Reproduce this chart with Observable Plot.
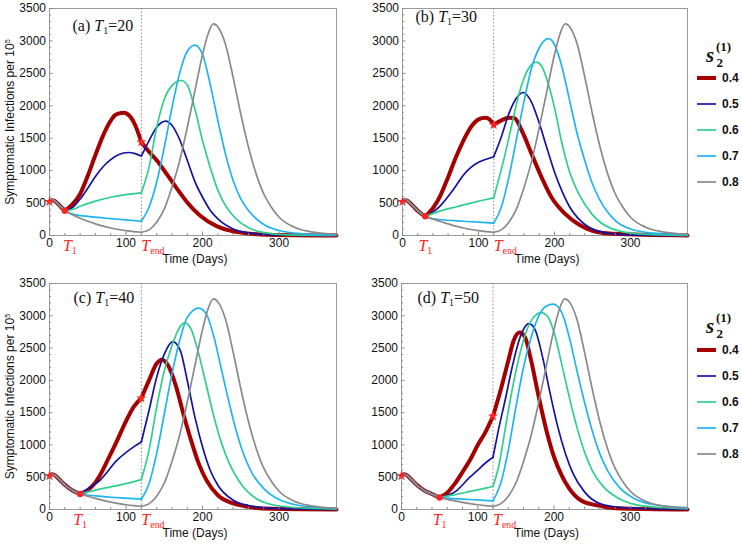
<!DOCTYPE html>
<html><head><meta charset="utf-8">
<script src="https://cdn.jsdelivr.net/npm/d3@7"></script>
<script src="https://cdn.jsdelivr.net/npm/@observablehq/plot@0.6"></script>
<style>
body{margin:0;background:#fff;}
#root{position:relative;width:742px;height:547px;overflow:hidden;}
.pnl{position:absolute;}
</style></head><body><div id="root"></div>
<script>
// ---------- series meta ----------
const seriesLevels = ["0.4","0.5","0.6","0.7","0.8"];
const seriesColors = ["#a50000","#1414a0","#2ecf8c","#1db4f2","#8a8a8a"];
const seriesWidths = [4, 1.7, 1.7, 1.7, 1.7];
const T_END = 120;
const panelT1 = [20, 30, 40, 50];
const panelLabels = ["(a) ~T_{1}=20", "(b) ~T_{1}=30", "(c) ~T_{1}=40", "(d) ~T_{1}=50"];
const yMajor = [0, 500, 1000, 1500, 2000, 2500, 3000, 3500];
const yMinor = [100,200,300,400,600,700,800,900,1100,1200,1300,1400,1600,1700,1800,1900,2100,2200,2300,2400,2600,2700,2800,2900,3100,3200,3300,3400];
const xMajor = [0, 100, 200, 300];
const xMinor = [20,40,60,80,120,140,160,180,220,240,260,280,320,340,360];
const yTitle = "Symptomatic Infections per 10^{5}";
const xTitle = "Time (Days)";

// common early epidemic (before T1)
const prefix = [[0,520],[3,545],[6,538],[10,500],[15,440],[20,382],[25,335],[30,295],[35,265],[40,240],[45,210],[50,185]];
// s=0.8 after T_end (same in all panels)
const grayAfter = [[120,50],[130,87],[140,205],[150,410],[160,745],[170,1150],[180,1665],[190,2230],[200,2790],[207,3100],[214,3262],[221,3200],[230,2945],[240,2435],[250,1870],[260,1360],[270,950],[280,640],[290,435],[300,282],[320,128],[340,61],[375,20]];

// ---------- panel (a) T1=20 ----------
const a04 = [[20,382],[30,480],[40,640],[50,920],[60,1240],[70,1540],[80,1770],[85,1850],[90,1880],[97,1893],[105,1840],[112,1700],[120,1440],[127,1335],[140,1160],[153,950],[167,715],[180,510],[197,305],[219,140],[241,60],[285,12],[375,0]];
const a05 = [[20,382],[30,430],[40,560],[50,730],[60,910],[70,1060],[80,1170],[90,1245],[103,1280],[112,1262],[120,1225],[130,1460],[140,1670],[152,1765],[160,1700],[170,1480],[180,1160],[190,830],[200,590],[210,390],[220,255],[240,100],[260,40],[290,10],[375,0]];
const a06 = [[20,382],[30,400],[40,450],[60,530],[80,590],[100,630],[120,656],[130,1050],[140,1665],[150,2100],[160,2310],[172,2390],[180,2320],[190,1950],[200,1460],[210,1050],[220,700],[230,460],[240,305],[260,120],[280,46],[310,10],[375,2]];
const a07 = [[20,382],[30,330],[50,295],[80,260],[100,240],[120,220],[130,435],[140,820],[150,1360],[160,1970],[170,2500],[180,2840],[190,2935],[200,2790],[210,2330],[220,1770],[230,1255],[240,845],[250,565],[260,385],[280,170],[300,77],[330,26],[375,5]];
const a08 = [[20,382],[30,320],[40,265],[50,220],[60,180],[70,145],[80,115],[90,92],[100,74],[110,60],[120,50]];

// ---------- panel (b) T1=30 ----------
const b04 = [[30,295],[40,420],[50,620],[60,900],[70,1200],[80,1460],[90,1670],[100,1790],[109,1815],[115,1785],[120,1706],[130,1775],[140,1815],[147,1810],[157,1615],[170,1255],[183,897],[196,590],[214,333],[232,170],[249,77],[276,26],[375,0]];
const b05 = [[30,295],[40,360],[50,460],[60,600],[70,760],[80,930],[90,1050],[100,1130],[110,1175],[120,1215],[130,1520],[140,1880],[150,2120],[159,2205],[170,2050],[180,1730],[190,1350],[200,980],[210,680],[220,440],[230,280],[240,170],[260,60],[290,15],[375,0]];
const b06 = [[30,295],[50,380],[70,440],[90,500],[110,555],[120,580],[134,1204],[143,1665],[152,2126],[161,2459],[170,2638],[176,2674],[183,2613],[192,2331],[201,1921],[209,1460],[218,1050],[232,640],[249,333],[276,102],[311,26],[375,2]];
const b07 = [[30,295],[40,255],[60,235],[80,220],[100,205],[120,190],[130,435],[140,900],[150,1490],[160,2075],[170,2590],[180,2895],[192,3035],[200,2945],[210,2590],[220,2075],[230,1560],[240,1150],[250,795],[260,540],[280,230],[300,100],[330,36],[375,10]];
const b08 = [[30,295],[40,255],[50,215],[60,180],[70,145],[80,115],[90,92],[100,74],[110,60],[120,50]];

// ---------- panel (c) T1=40 ----------
const c04 = [[40,240],[50,300],[60,420],[66,530],[75,740],[88,1060],[100,1370],[110,1590],[120,1724],[130,2000],[140,2260],[147,2320],[155,2230],[165,1920],[175,1480],[185,1070],[195,710],[205,455],[220,220],[240,93],[260,41],[290,10],[375,0]];
const c05 = [[40,240],[50,320],[66,453],[88,760],[110,970],[120,1045],[130,1533],[140,2048],[151,2434],[161,2600],[171,2460],[180,1997],[190,1431],[200,968],[210,607],[220,376],[240,144],[260,62],[290,20],[375,0]];
const c06 = [[40,240],[60,300],[80,350],[100,400],[120,463],[130,916],[140,1585],[150,2150],[160,2537],[170,2820],[177,2890],[185,2795],[195,2410],[205,1920],[215,1430],[225,1020],[235,710],[250,400],[270,170],[290,77],[320,31],[375,5]];
const c07 = [[40,240],[60,210],[80,190],[100,175],[120,160],[130,400],[140,865],[150,1480],[160,2100],[170,2614],[180,2975],[195,3120],[205,3026],[215,2666],[225,2151],[235,1637],[245,1173],[255,813],[265,556],[280,324],[300,154],[320,77],[350,31],[375,15]];
const c08 = [[40,240],[50,205],[60,172],[70,142],[80,115],[90,92],[100,74],[110,60],[120,50]];

// ---------- panel (d) T1=50 ----------
const d04 = [[50,185],[60,260],[70,400],[80,580],[92,813],[100,1000],[109,1175],[120,1446],[131,1894],[140,2305],[147,2614],[155,2740],[162,2666],[170,2305],[180,1740],[190,1225],[200,813],[210,530],[220,324],[235,144],[255,67],[280,20],[375,0]];
const d05 = [[50,185],[70,273],[90,504],[100,610],[110,720],[120,810],[127,1225],[136,1700],[145,2200],[155,2650],[167,2880],[175,2790],[185,2360],[195,1790],[205,1276],[215,865],[225,556],[240,273],[260,93],[290,31],[375,0]];
const d06 = [[50,185],[70,230],[90,280],[110,330],[120,360],[128,700],[136,1250],[145,1850],[155,2400],[165,2800],[175,3000],[183,3050],[192,2980],[200,2745],[210,2255],[220,1740],[230,1276],[240,890],[250,607],[265,350],[285,170],[310,67],[340,31],[375,10]];
const d07 = [[50,185],[80,160],[100,150],[120,134],[130,401],[140,916],[150,1585],[160,2203],[170,2666],[180,3000],[190,3150],[199,3180],[210,3052],[220,2666],[230,2151],[240,1662],[250,1225],[260,865],[270,607],[285,350],[305,170],[330,77],[375,30]];
const d08 = [[50,185],[60,158],[70,133],[80,110],[90,90],[100,74],[110,60],[120,50]];

const panelData = [
  [a04, a05, a06, a07, a08.concat(grayAfter.slice(1))],
  [b04, b05, b06, b07, b08.concat(grayAfter.slice(1))],
  [c04, c05, c06, c07, c08.concat(grayAfter.slice(1))],
  [d04, d05, d06, d07, d08.concat(grayAfter.slice(1))]
];

// ---------- layout ----------
const layouts = [
  {left:0,   top:0,   width:370, height:270, mL:49, mR:34, mT:8,  mB:35, yLab:true,  labDx:23, labDy:17, t1Dx:5},
  {left:370, top:0,   width:320, height:270, mL:32, mR:3,  mT:8,  mB:35, yLab:false, labDx:13, labDy:8,  t1Dx:0},
  {left:0,   top:270, width:370, height:277, mL:49, mR:34, mT:13, mB:38, yLab:true,  labDx:24, labDy:14, t1Dx:0},
  {left:370, top:270, width:320, height:277, mL:31, mR:3,  mT:13, mB:38, yLab:false, labDx:16, labDy:14, t1Dx:0}
];
const RED = "#ff2222";
const SANS = "Liberation Sans, Arial, sans-serif";
const SERIF = "Liberation Serif, Times New Roman, serif";

function fullSeries(t1, pts) {
  return prefix.filter(([t]) => t < t1).concat(pts);
}
function segRows(t1, pts) {
  const rows = [];
  for (const [t, v] of fullSeries(t1, pts)) {
    if (t <= t1) rows.push({t, v, seg: 0});
    if (t >= t1 && t <= T_END) rows.push({t, v, seg: 1});
    if (t >= T_END) rows.push({t, v, seg: 2});
  }
  return rows;
}

// rich text: ~X italic char, _{..} subscript, ^{..} superscript
function richify(el) {
  const s = el.textContent;
  if (!/[~_^]/.test(s)) return;
  const parts = [];
  let i = 0;
  while (i < s.length) {
    const c = s[i];
    if (c === "~") { parts.push({t: s[i+1], it: true}); i += 2; }
    else if ((c === "_" || c === "^") && s[i+1] === "{") {
      const j = s.indexOf("}", i);
      parts.push({t: s.slice(i+2, j), sub: c === "_", sup: c === "^"}); i = j + 1;
    } else {
      let j = i; while (j < s.length && !(s[j] === "~" || ((s[j] === "_" || s[j] === "^") && s[j+1] === "{"))) j++;
      parts.push({t: s.slice(i, j)}); i = j;
    }
  }
  const fs = parseFloat(getComputedStyle(el).fontSize) || 12;
  while (el.firstChild) el.removeChild(el.firstChild);
  let cur = 0;
  for (const p of parts) {
    const ts = document.createElementNS("http://www.w3.org/2000/svg", "tspan");
    const target = p.sub ? 0.22 * fs : p.sup ? -0.4 * fs : 0;
    if (target !== cur) ts.setAttribute("dy", (target - cur).toFixed(2));
    cur = target;
    if (p.it) ts.setAttribute("font-style", "italic");
    if (p.sub || p.sup) ts.setAttribute("font-size", (0.62 * fs).toFixed(2));
    ts.textContent = p.t;
    el.appendChild(ts);
  }
}

const root = document.getElementById("root");

panelData.forEach((series, k) => {
  const L = layouts[k];
  const t1 = panelT1[k];
  const marks = [];
  marks.push(Plot.frame({stroke: "#9a9a9a", strokeWidth: 1}));
  marks.push(Plot.ruleX([T_END], {stroke: "#8a8a8a", strokeWidth: 1, strokeDasharray: "1.5,2"}));
  series.forEach((pts, i) => {
    marks.push(Plot.line(segRows(t1, pts), {
      x: "t", y: "v", z: "seg", stroke: seriesColors[i], strokeWidth: seriesWidths[i],
      curve: "monotone-x", strokeLinejoin: "round", strokeLinecap: "round"
    }));
  });
  const red = fullSeries(t1, series[0]);
  const starPts = [red[0], red.find(d => d[0] === T_END)];
  const dotPts = [red.find(d => d[0] === t1)];
  marks.push(Plot.dot(starPts, {x: d => d[0], y: d => d[1], symbol: "star", r: 3.2, fill: RED, stroke: null}));
  marks.push(Plot.dot(dotPts, {x: d => d[0], y: d => d[1], r: 3.2, fill: RED, stroke: null}));
  // axes (inward ticks)
  marks.push(Plot.axisY(yMajor, {tickSize: -3.5, tickPadding: 7, tickFormat: d => String(d), stroke: "#8a8a8a", fill: "#111", fontSize: 12, label: null}));
  marks.push(Plot.axisY(yMinor, {tickSize: -2, tickPadding: 0, tickFormat: () => "", stroke: "#8a8a8a", label: null}));
  marks.push(Plot.axisX(xMajor, {tickSize: -3.5, tickPadding: 6, tickFormat: d => String(d), stroke: "#8a8a8a", fill: "#111", fontSize: 12, label: null}));
  marks.push(Plot.axisX(xMinor, {tickSize: -2, tickPadding: 0, tickFormat: () => "", stroke: "#8a8a8a", label: null}));
  // special red tick labels
  marks.push(Plot.text([t1], {x: d => d, frameAnchor: "bottom", lineAnchor: "middle", dy: 10, dx: L.t1Dx, text: () => "~T_{1}", fill: RED, fontFamily: SERIF, fontSize: 16}));
  marks.push(Plot.text([T_END], {x: d => d, frameAnchor: "bottom", lineAnchor: "middle", dy: 10, dx: 0, textAnchor: "start", text: () => "~T_{end}", fill: RED, fontFamily: SERIF, fontSize: 16}));
  // titles
  marks.push(Plot.text([xTitle], {frameAnchor: "bottom", lineAnchor: "middle", dy: 24, dx: 2, fontSize: 12, fill: "#111"}));
  if (L.yLab) marks.push(Plot.text([yTitle], {frameAnchor: "left", textAnchor: "middle", lineAnchor: "middle", rotate: -90, dx: -39, fontSize: 12, fill: "#111"}));
  marks.push(Plot.text([panelLabels[k]], {frameAnchor: "top-left", lineAnchor: "middle", dx: L.labDx, dy: L.labDy, textAnchor: "start", fontFamily: SERIF, fontSize: 16, fill: "#111"}));

  const svg = Plot.plot({
    width: L.width, height: L.height,
    marginLeft: L.mL, marginRight: L.mR, marginTop: L.mT, marginBottom: L.mB,
    x: {domain: [0, 375], label: null},
    y: {domain: [0, 3500], label: null},
    style: {fontFamily: SANS, fontSize: "12px", background: "transparent", overflow: "visible", color: "#111"},
    marks
  });
  const wrap = document.createElement("div");
  wrap.className = "pnl";
  wrap.style.left = L.left + "px";
  wrap.style.top = L.top + "px";
  wrap.appendChild(svg);
  root.appendChild(wrap);
  svg.querySelectorAll("text").forEach(richify);
});

// ---------- legends (right side) ----------
const legendFirstY = [78, 350];
const legendTitleBase = [62, 333];
const legendStep = 26;
const lg = d3.create("svg").attr("width", 742).attr("height", 547)
  .style("position", "absolute").style("left", "0px").style("top", "0px").style("pointer-events", "none");
legendFirstY.forEach((y0, j) => {
  const tb = legendTitleBase[j];
  lg.append("text").attr("x", 706).attr("y", tb).attr("font-family", SERIF).attr("font-weight", "bold")
    .attr("font-style", "italic").attr("font-size", 21).attr("fill", "#111").text("s");
  lg.append("text").attr("x", 716.5).attr("y", tb + 5).attr("font-family", SERIF).attr("font-weight", "bold")
    .attr("font-size", 13).attr("fill", "#111").text("2");
  lg.append("text").attr("x", 716).attr("y", tb - 11).attr("font-family", SERIF).attr("font-weight", "bold")
    .attr("font-size", 13).attr("fill", "#111").text("(1)");
  seriesLevels.forEach((lev, i) => {
    const y = y0 + i * legendStep;
    lg.append("line").attr("x1", 697).attr("x2", 716).attr("y1", y).attr("y2", y)
      .attr("stroke", seriesColors[i]).attr("stroke-width", seriesWidths[i]);
    lg.append("text").attr("x", 722).attr("y", y).attr("dy", "0.35em").attr("font-family", SANS)
      .attr("font-weight", "bold").attr("font-size", 12).attr("fill", "#111").text(lev);
  });
});
root.appendChild(lg.node());
</script>
</body></html>
